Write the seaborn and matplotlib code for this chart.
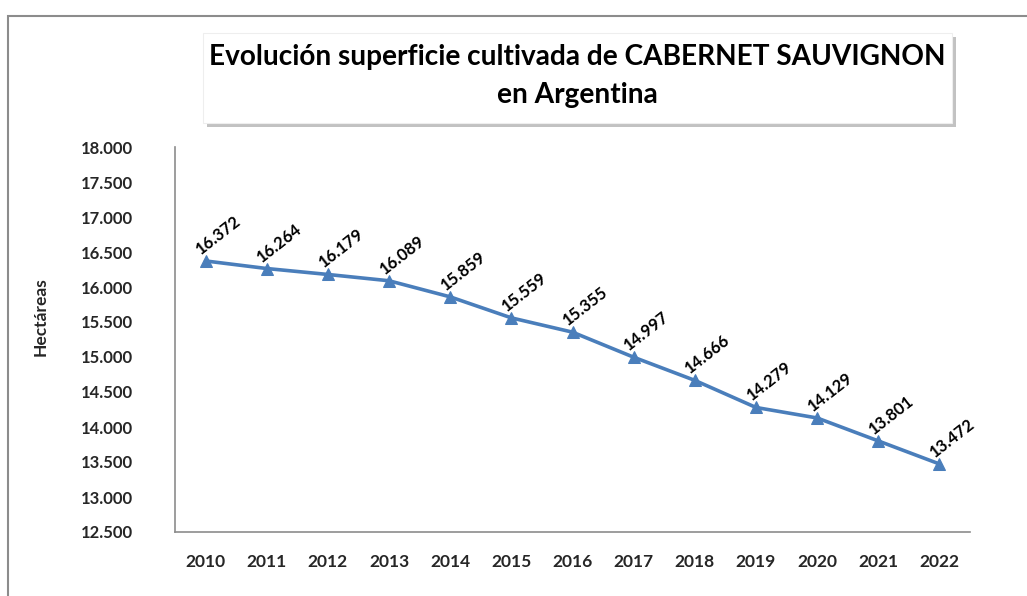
import seaborn as sns
import pandas as pd
import matplotlib.pyplot as plt
from matplotlib.patches import Rectangle
from matplotlib.ticker import FuncFormatter, FixedLocator

# data
years = ['2010', '2011', '2012', '2013', '2014', '2015', '2016',
         '2017', '2018', '2019', '2020', '2021', '2022']
hectareas = [16372, 16264, 16179, 16089, 15859, 15559, 15355,
             14997, 14666, 14279, 14129, 13801, 13472]
y_ticks = [12500, 13000, 13500, 14000, 14500, 15000, 15500,
           16000, 16500, 17000, 17500, 18000]

title = 'Evolución superficie cultivada de CABERNET SAUVIGNON\nen Argentina'
y_label = 'Hectáreas'


def miles(v):
    return f'{int(round(v)):,}'.replace(',', '.')


df = pd.DataFrame({'pos': range(len(years)), 'ha': hectareas})

sns.set_style('white')
plt.rcParams['font.family'] = ['Lato', 'DejaVu Sans']

fig = plt.figure(figsize=(10.27, 5.96), dpi=100)
W, H = 1027, 596

# outer chart border (only left and top visible in the crop)
fig.patches.append(Rectangle((8 / W, -0.2), 1.2, 1 - 16 / H + 0.2,
                             transform=fig.transFigure, fill=False,
                             edgecolor='#8c8c8c', linewidth=1.5))

# title box with shadow
bx, by, bw, bh = 203 / W, 1 - 123 / H, 749 / W, 90 / H
fig.patches.append(Rectangle((bx + 4 / W, by - 4 / H), bw, bh,
                             transform=fig.transFigure, facecolor='#9a9a9a',
                             edgecolor='none', alpha=0.6))
fig.patches.append(Rectangle((bx, by), bw, bh, transform=fig.transFigure,
                             facecolor='white', edgecolor='#eeeeee', linewidth=0.8))
fig.text(bx + bw / 2, by + bh / 2 + 2 / H, title, ha='center', va='center',
         fontsize=20.2, fontweight='bold', linespacing=1.6, color='black')

ax = fig.add_axes([175 / W, 1 - 532 / H, 795 / W, 385 / H])
sns.lineplot(data=df, x='pos', y='ha', ax=ax, color='#4a7ebb', linewidth=2.6,
             marker='^', markersize=9, markeredgecolor='#4a7ebb')

for x, v in zip(df['pos'], df['ha']):
    ax.annotate(miles(v), (x, v), xytext=(13, 26), textcoords='offset pixels',
                ha='center', va='center', rotation=38, fontsize=12,
                fontweight='bold', color='black')

ax.set_xlim(-0.5, len(years) - 0.5)
ax.set_ylim(12500, 18000)
ax.set_yticks(y_ticks)
ax.yaxis.set_major_formatter(FuncFormatter(lambda v, p: miles(v)))
ax.set_xticks(list(df['pos']))
ax.set_xticklabels(years)
ax.xaxis.set_minor_locator(FixedLocator([i + 0.5 for i in range(len(years))]))

for s in ['top', 'right']:
    ax.spines[s].set_visible(False)
for s in ['left', 'bottom']:
    ax.spines[s].set_color('#8c8c8c')
    ax.spines[s].set_linewidth(1.2)

ax.tick_params(axis='y', which='major', direction='out', length=6, width=1,
               color='#8c8c8c', labelsize=12, pad=24)
ax.tick_params(axis='x', which='major', length=0, labelsize=12.5, pad=16)
ax.tick_params(axis='x', which='minor', direction='in', length=6, width=1,
               color='#8c8c8c')
for lab in ax.get_xticklabels() + ax.get_yticklabels():
    lab.set_fontweight('bold')

ax.set_xlabel('')
ax.set_ylabel(y_label, fontsize=12.5, fontweight='bold')
ax.yaxis.set_label_coords(-126 / 795, 0.56)
ax.grid(False)

fig.savefig('out.png', dpi=100)
